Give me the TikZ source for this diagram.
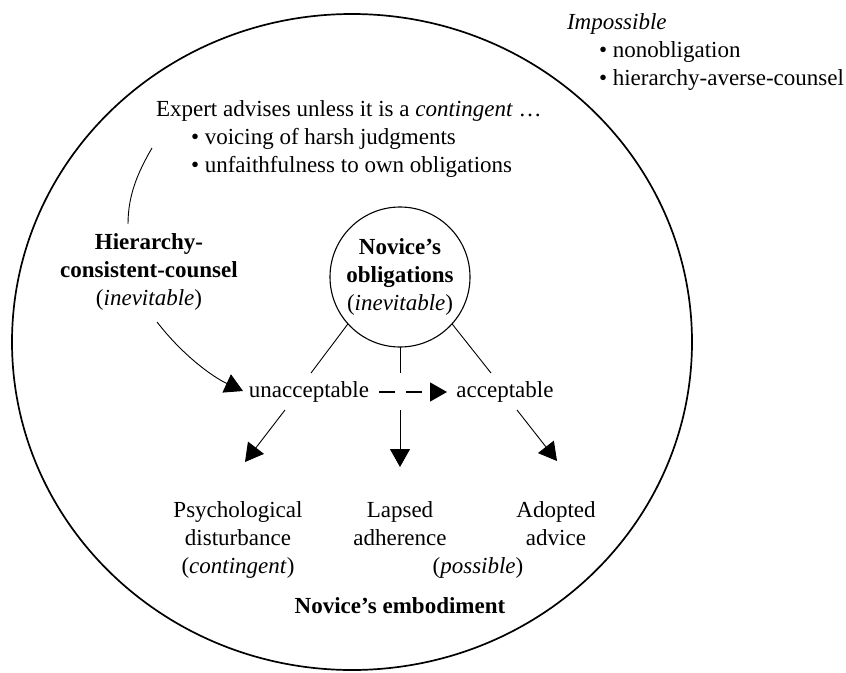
\documentclass[tikz,border=0pt]{standalone}
\usepackage{fontspec}
\setmainfont{Liberation Serif}
\usetikzlibrary{arrows.meta}
\begin{document}
\begin{tikzpicture}[x=1pt,y=1pt,
  every node/.style={font=\fontsize{23}{28}\selectfont, inner sep=0pt, outer sep=0pt},
  conn/.style={line width=0.9pt, draw=black},
  tip/.style={-{Triangle[length=18pt,width=20pt]}},
  lbl/.style={align=center, anchor=base},
  lblw/.style={align=left, anchor=base west}]
\useasboundingbox (0,0) rectangle (846,-672);
% outer boundary
\draw[line width=1.7pt] (352,-342) ellipse [x radius=340, y radius=328];
% texts (base anchor = baseline of the last line)
\node[lblw] (imp) at (567,-85) {\textit{Impossible}\\\hspace*{32pt}\textbullet{} nonobligation\\\hspace*{32pt}\textbullet{} hierarchy-averse-counsel};
\node[lblw] (exp) at (156,-172) {Expert advises unless it is a \textit{contingent} \ldots\\\hspace*{35pt}\textbullet{} voicing of harsh judgments\\\hspace*{35pt}\textbullet{} unfaithfulness to own obligations};
\node[lbl] (hcc) at (149,-305) {\textbf{Hierarchy-}\\\textbf{consistent-counsel}\\(\textit{inevitable})};
\node[draw, circle, line width=1.1pt, minimum size=140pt, align=center] (obl) at (400,-277) {\textbf{Novice’s}\\\textbf{obligations}\\(\textit{inevitable})};
\node[lbl] (unacc) at (309,-397) {unacceptable};
\node[lbl] (acc) at (505,-397) {acceptable};
\node[lbl] (psy) at (238,-573) {Psychological\\disturbance\\(\textit{contingent})};
\node[lbl] (lap) at (400,-545) {Lapsed\\adherence};
\node[lbl] (adp) at (556,-545) {Adopted\\advice};
\node[lbl] (pos) at (478,-573) {(\textit{possible})};
\node[lbl] (emb) at (400,-613) {\textbf{Novice’s embodiment}};
% coordinates
\coordinate (e1) at (152,-148);
\coordinate (h1) at (128,-224);
\coordinate (h2) at (157,-322);
\coordinate (u1) at (243,-391);
\coordinate (l1) at (311,-373);
\coordinate (m1) at (400,-373);
\coordinate (r1) at (491,-373);
\coordinate (d1) at (379,-392);
\coordinate (d2) at (447,-392);
\coordinate (bl0) at (285,-410);
\coordinate (bl1) at (245,-462);
\coordinate (bm0) at (400,-410);
\coordinate (bm1) at (400,-467);
\coordinate (br0) at (517,-410);
\coordinate (br1) at (557,-461);
% connectors
\draw[conn] (e1) .. controls (138,-172) and (128,-195) .. (h1);
\draw[conn, tip] (h2) .. controls (185,-358) and (215,-378) .. (u1);
\draw[conn] (obl.222) -- (l1);
\draw[conn] (obl.south) -- (m1);
\draw[conn] (obl.-42) -- (r1);
\draw[conn, line width=1.6pt, -{Triangle[length=17pt,width=19pt]}, dash pattern=on 16pt off 11pt] (d1) -- (d2);
\draw[conn, tip] (bl0) -- (bl1);
\draw[conn, tip] (bm0) -- (bm1);
\draw[conn, tip] (br0) -- (br1);
\end{tikzpicture}
\end{document}
